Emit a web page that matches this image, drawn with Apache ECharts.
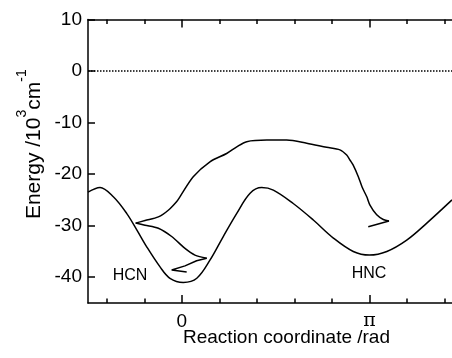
<!DOCTYPE html>
<html><head><meta charset="utf-8">
<script src="https://cdn.jsdelivr.net/npm/echarts@6/dist/echarts.min.js"></script>
<style>html,body{margin:0;padding:0;background:#fff}#c{width:452px;height:358px}</style>
</head><body><div id="c"></div>
<script>
// x values are in units of π (rad / π)
const xMajorTicks = [0, 1];
const xMajorLabels = ['0', 'π'];
const xMinorTicks = [-0.4, -0.2, 0.2, 0.4, 0.6, 0.8, 1.2, 1.4];
const yTicks = [-40, -30, -20, -10, 0, 10];

// potential-energy curve
const lowerX = [-0.5, -0.436, -0.365, -0.294, -0.240, -0.187, -0.116, -0.063, 0.008, 0.080, 0.150, 0.221, 0.293, 0.364, 0.426, 0.488, 0.594, 0.701, 0.808, 0.914, 1.0, 1.093, 1.199, 1.306, 1.4403];
const lowerY = [-23.5, -22.6, -24.4, -27.6, -30.8, -34.1, -38.0, -40.2, -41.0, -40.2, -36.7, -32.1, -27.6, -23.7, -22.6, -23.1, -25.7, -28.9, -32.4, -35.0, -35.7, -35.0, -32.8, -29.5, -25.0];

// upper path, split at its cusps
const hncTailX = [0.994, 1.1045];
const hncTailY = [-30.2, -29.1];
const upperX = [1.1045, 1.074, 1.039, 1.003, 0.986, 0.961, 0.941, 0.913, 0.897, 0.879, 0.843, 0.772, 0.666, 0.559, 0.453, 0.346, 0.293, 0.239, 0.150, 0.061, -0.010, -0.027, -0.072, -0.125, -0.196, -0.246];
const upperY = [-29.1, -28.8, -27.9, -26.0, -24.4, -22.5, -20.5, -18.2, -17.3, -16.3, -15.3, -14.8, -14.0, -13.4, -13.4, -13.7, -14.7, -16.0, -17.6, -20.5, -24.4, -25.3, -27.0, -28.3, -29.0, -29.5];
const branchX = [-0.246, -0.196, -0.125, -0.054, 0.017, 0.070, 0.133];
const branchY = [-29.5, -29.9, -30.5, -32.1, -34.4, -35.7, -36.3];
const hookX = [0.133, 0.079, 0.017, -0.054, 0.026];
const hookY = [-36.3, -36.8, -37.8, -38.6, -39.0];

const zeroLineX = [-0.5, 1.4403];
const zeroLineY = [0, 0];

const X_MIN = -0.5, X_MAX = 1.4403;
const pairs = (xs, ys) => xs.map((x, i) => [x, ys[i]]);
const FONT = 'Liberation Sans';

const baseX = {
  type: 'value', min: X_MIN, max: X_MAX, gridIndex: 0,
  splitLine: { show: false }
};
const blk = { color: '#000', width: 1.5 };

const chart = echarts.init(document.getElementById('c'));
const lineSeries = (xs, ys, smooth) => ({
  type: 'line', data: pairs(xs, ys), showSymbol: false, symbol: 'none',
  smooth: smooth, lineStyle: { color: '#000', width: 1.5 }, animation: false, z: 3
});

chart.setOption({
  animation: false,
  grid: { left: 88, right: 0, top: 19.5, bottom: 55, containLabel: false },
  xAxis: [
    Object.assign({}, baseX, {
      position: 'bottom',
      axisLine: { show: true, onZero: false, lineStyle: blk },
      axisTick: { show: true, inside: true, length: 8, customValues: xMajorTicks, lineStyle: blk },
      axisLabel: {
        show: true, customValues: xMajorTicks, margin: 9, color: '#000', fontSize: 19, fontFamily: FONT,
        formatter: v => { const i = xMajorTicks.indexOf(v); return i === 1 ? '{p|' + xMajorLabels[1] + '}' : xMajorLabels[i]; },
        rich: { p: { fontSize: 19, fontFamily: 'DejaVu Serif', color: '#000' } }
      }
    }),
    Object.assign({}, baseX, {
      position: 'bottom',
      axisLine: { show: false, onZero: false },
      axisTick: { show: true, inside: true, length: 4.5, customValues: xMinorTicks, lineStyle: blk },
      axisLabel: { show: false }
    }),
    Object.assign({}, baseX, {
      position: 'top',
      axisLine: { show: true, onZero: false, lineStyle: blk },
      axisTick: { show: true, inside: true, length: 8, customValues: xMajorTicks, lineStyle: blk },
      axisLabel: { show: false }
    }),
    Object.assign({}, baseX, {
      position: 'top',
      axisLine: { show: false, onZero: false },
      axisTick: { show: true, inside: true, length: 4.5, customValues: xMinorTicks, lineStyle: blk },
      axisLabel: { show: false }
    })
  ],
  yAxis: {
    type: 'value', min: -45, max: 10, position: 'left',
    splitLine: { show: false },
    axisLine: { show: true, onZero: false, lineStyle: blk },
    axisTick: { show: true, inside: true, length: 7, customValues: yTicks, lineStyle: blk },
    axisLabel: { customValues: yTicks, margin: 6, color: '#000', fontSize: 19, fontFamily: FONT }
  },
  series: [
    Object.assign(lineSeries(zeroLineX, zeroLineY, false), { lineStyle: { color: '#000', width: 1.5, type: [1.5, 1.5] } }),
    lineSeries(lowerX, lowerY, 0.35),
    lineSeries(hncTailX, hncTailY, false),
    lineSeries(upperX, upperY, 0.3),
    lineSeries(branchX, branchY, 0.3),
    lineSeries(hookX, hookY, false)
  ],
  graphic: [
    { type: 'text', x: 130, y: 276, style: { text: 'HCN', font: '16px "Liberation Sans"', fill: '#000', align: 'center', verticalAlign: 'middle' } },
    { type: 'text', x: 369, y: 274, style: { text: 'HNC', font: '16px "Liberation Sans"', fill: '#000', align: 'center', verticalAlign: 'middle' } },
    { type: 'text', x: 286.5, y: 338, style: { text: 'Reaction coordinate /rad', font: '19px "Liberation Sans"', fill: '#000', align: 'center', verticalAlign: 'middle' } },
    { type: 'text', x: 34.6, y: 144.2, rotation: Math.PI / 2,
      style: {
        text: 'Energy /10{s|3}cm{s|-1}', fill: '#000', align: 'center', verticalAlign: 'middle',
        fontSize: 21, fontFamily: FONT, lineHeight: 39,
        rich: { s: { fontSize: 14, fontFamily: FONT, lineHeight: 14, verticalAlign: 'top', fill: '#000' } }
      } }
  ]
});
</script></body></html>
